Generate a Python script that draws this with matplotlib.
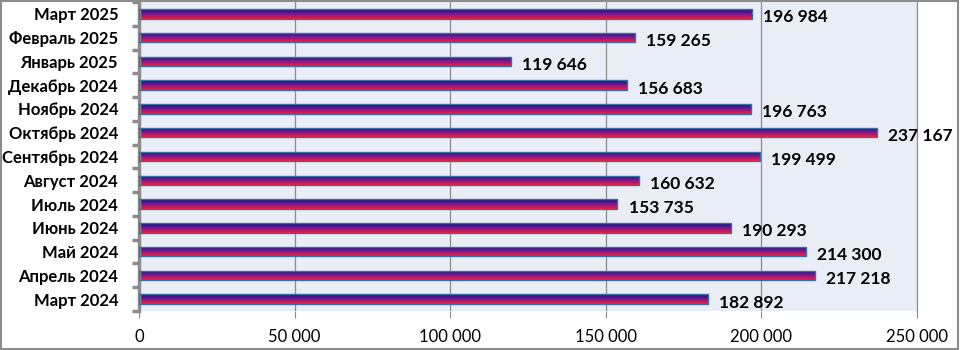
import matplotlib.pyplot as plt
import numpy as np
from matplotlib.colors import LinearSegmentedColormap

# данные
months = ['Март 2024', 'Апрель 2024', 'Май 2024', 'Июнь 2024', 'Июль 2024',
          'Август 2024', 'Сентябрь 2024', 'Октябрь 2024', 'Ноябрь 2024',
          'Декабрь 2024', 'Январь 2025', 'Февраль 2025', 'Март 2025']
values = [182892, 217218, 214300, 190293, 153735, 160632, 199499,
          237167, 196763, 156683, 119646, 159265, 196984]
xticks = [0, 50000, 100000, 150000, 200000, 250000]

plt.rcParams['font.family'] = ['Lato', 'DejaVu Sans']

def fmt(v):
    return f'{v:,}'.replace(',', ' ')

fig = plt.figure(figsize=(9.6, 3.5), dpi=100)
ax = fig.add_axes([139/960, 1 - 311/350, (917-139)/960, (311-2)/350])
ax.set_facecolor('#E9EDF6')

y = np.arange(len(months))
h = 0.40
cmap = LinearSegmentedColormap.from_list('g', ['#10107A', '#7A1890', '#FF1A30'])
grad = np.linspace(0, 1, 64).reshape(-1, 1)

bars = ax.barh(y, values, height=h, color='none', edgecolor='#3A6EA8', linewidth=1.0, zorder=3)
for b, v in zip(bars, values):
    # строка 0 (тёмно-синий) сверху, красный снизу
    im = ax.imshow(grad, cmap=cmap, aspect='auto', zorder=2, origin='upper',
                   extent=[0, v, b.get_y(), b.get_y() + h])
    im.set_clip_path(b)
    ax.annotate(fmt(v), xy=(v, b.get_y() + h / 2), xytext=(8, -2.5),
                textcoords='offset points', va='center', ha='left',
                fontsize=12.5, fontweight='bold', color='black', zorder=4)

ax.set_xlim(0, 250000)
ax.set_ylim(-0.5, len(months) - 0.5)
ax.set_xticks(xticks)
ax.set_xticklabels([fmt(t) for t in xticks], fontsize=12)
ax.set_yticks(np.arange(len(months) + 1) - 0.5, minor=False)
ax.set_yticklabels([])
ax.set_yticks(y, minor=True)
ax.set_yticklabels(months, minor=True, fontsize=12, fontweight='bold')
ax.tick_params(axis='y', which='minor', length=0, pad=15)
ax.tick_params(axis='y', which='major', length=5, width=2.5, color='#8C8C8C')
ax.tick_params(axis='x', length=5, color='#8C8C8C', pad=8)
ax.grid(axis='x', color='#8C8C8C', linewidth=0.9, zorder=1)
ax.set_axisbelow(True)
for s in ['top', 'bottom']:
    ax.spines[s].set_visible(False)
ax.spines['right'].set_color('#8C8C8C')
ax.spines['left'].set_color('#8C8C8C')
ax.spines['left'].set_linewidth(2.5)

# рамка вокруг рисунка
fig.patches.append(plt.Rectangle((0.001, 0.002), 0.997, 0.995, transform=fig.transFigure,
                                 fill=False, edgecolor='#8C8C8C', linewidth=1.5))

plt.savefig('out.png', dpi=100)
